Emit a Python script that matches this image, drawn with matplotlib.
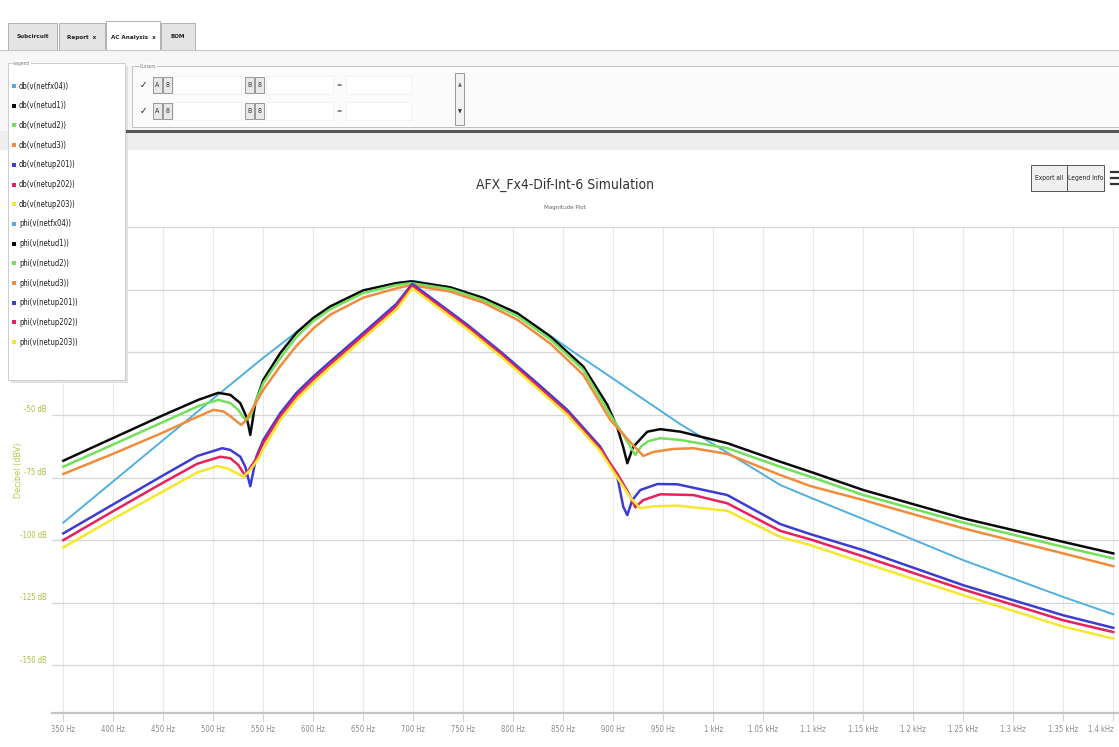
import matplotlib
matplotlib.use('Agg')
import matplotlib.pyplot as plt
from matplotlib.patches import Rectangle
from matplotlib import font_manager, transforms

# narrow font if there is one, the screenshot is squeezed horizontally
_names = {f.name for f in font_manager.fontManager.ttflist}
NARROW = 'Liberation Sans Narrow' if 'Liberation Sans Narrow' in _names else 'DejaVu Sans'
plt.rcParams['font.family'] = [NARROW, 'DejaVu Sans']
plt.rcParams['font.stretch'] = 'condensed'

# ---- data (Hz, dB) ----
f_fx04 = [350, 400, 450, 500, 550, 583, 600, 617, 650, 683, 700, 737, 770, 804, 830, 860,
          900, 967, 1020, 1067, 1097, 1150, 1250, 1350, 1400]
db_fx04 = [-93, -76.5, -60, -43.5, -27.2, -17, -11.5, -6.7, -0.3, 2.6, 3.5, 1.0, -3.3, -9.4,
           -16.5, -24.8, -35.6, -53.7, -66.5, -78, -83, -91.6, -108, -122.7, -129.6]

f_ud1 = [350, 400, 450, 485, 505, 517, 527, 533, 535, 537, 542, 550, 567, 583, 600, 617, 650,
         683, 698, 737, 770, 804, 837, 870, 894, 904, 910, 914, 920, 934, 947, 967, 1014, 1067,
         1097, 1150, 1250, 1350, 1400]
db_ud1 = [-68.3, -59.2, -50.1, -44, -41.2, -42, -45.3, -50.7, -54, -58, -45.3, -36, -25.3,
          -17.3, -11.3, -6.7, -0.3, 2.6, 3.3, 0.9, -3.3, -9.4, -18.7, -30.7, -46, -55, -63,
          -69.3, -62.7, -56.7, -55.7, -56.7, -61.3, -68.7, -72.7, -80, -91.3, -100.7, -105.3]

f_ud2 = [350, 400, 450, 485, 505, 517, 525, 530, 533, 537, 542, 550, 567, 583, 600, 617, 650,
         683, 698, 737, 770, 804, 837, 870, 897, 910, 922, 928, 935, 947, 967, 1014, 1067, 1097,
         1150, 1250, 1350, 1400]
db_ud2 = [-70.7, -61.8, -52.8, -46.5, -44, -45.3, -48, -51, -52, -50.7, -45, -37.3, -27.3,
          -19, -12.5, -7.8, -1.3, 1.8, 2.6, 0.2, -4.2, -10.5, -19.8, -32, -50, -58, -66, -62.5,
          -60.5, -59.3, -60, -63.3, -70.7, -74.7, -82, -93, -102.7, -107.3]

f_ud3 = [350, 400, 450, 480, 500, 510, 517, 523, 528, 533, 540, 550, 567, 583, 600, 617, 650,
         683, 698, 737, 770, 804, 837, 870, 897, 915, 930, 940, 960, 980, 1014, 1067, 1097, 1150,
         1250, 1350, 1400]
db_ud3 = [-73.6, -65.5, -57, -51.5, -48, -48.6, -50.5, -52.5, -54, -52, -47, -40, -30.5,
          -22.5, -15.5, -10, -3.2, 0.5, 1.8, -0.8, -5.2, -12, -21.5, -34, -52, -60, -66.4,
          -64.8, -63.6, -63.3, -65.6, -74, -78.4, -84, -95.3, -105.3, -110.4]

f_up201 = [350, 400, 450, 484, 509, 517, 527, 532, 537, 543, 550, 567, 583, 600, 617, 650,
           683, 699, 754, 787, 820, 854, 887, 904, 910, 914, 919, 927, 944, 964, 1014, 1067,
           1097, 1150, 1250, 1350, 1400]
db_up201 = [-97.3, -85.7, -74.1, -66.4, -63.3, -64, -66.7, -70.7, -78.5, -66.7, -60, -49.3,
            -41.3, -34.7, -28.7, -17.3, -5.7, 2.3, -14, -24.7, -36, -48, -62.7, -74.7, -86.7,
            -90, -84, -80, -77.6, -77.7, -82, -93.6, -97.6, -104, -118, -130, -135]

f_up202 = [350, 400, 450, 484, 507, 517, 525, 532, 537, 543, 550, 567, 583, 600, 617, 650,
           683, 699, 754, 787, 820, 854, 887, 904, 915, 922, 930, 947, 980, 1014, 1067, 1097,
           1150, 1250, 1350, 1400]
db_up202 = [-100, -88.4, -77, -69.5, -66.7, -67.3, -70, -74.3, -71, -67.5, -61.2, -50.5,
            -42.5, -35.8, -29.8, -18.3, -6.7, 1.5, -14.8, -25.5, -37, -49, -63.5, -73.5, -81,
            -86.9, -84, -81.7, -82, -85.3, -96.3, -99.7, -106.5, -119.7, -132, -136.7]

f_up203 = [350, 400, 450, 484, 504, 515, 522, 530, 537, 545, 550, 567, 583, 600, 617, 650,
           683, 699, 754, 787, 820, 854, 887, 904, 918, 927, 940, 964, 1014, 1067, 1097, 1150,
           1250, 1350, 1400]
db_up203 = [-102.9, -91.5, -80.5, -73, -70.4, -71.5, -73, -74.7, -72, -67.5, -63.5, -52, -44,
            -37.2, -31, -19.5, -8, 0.5, -15.8, -26.5, -38, -50, -64.5, -75, -83.5, -87.3,
            -86.5, -86.2, -88.3, -98.7, -102, -109, -122, -134.5, -139.3]

nets = ['netfx04', 'netud1', 'netud2', 'netud3', 'netup201', 'netup202', 'netup203']
colors = ['#4fb0e0', '#0a0a0a', '#72e05a', '#f08c3c', '#3c3cd2', '#e8205c', '#f5e82c']
freqs = [f_fx04, f_ud1, f_ud2, f_ud3, f_up201, f_up202, f_up203]
dbs = [db_fx04, db_ud1, db_ud2, db_ud3, db_up201, db_up202, db_up203]

xticks = [350 + 50 * i for i in range(22)]
xlabels = ['350 Hz', '400 Hz', '450 Hz', '500 Hz', '550 Hz', '600 Hz', '650 Hz', '700 Hz',
           '750 Hz', '800 Hz', '850 Hz', '900 Hz', '950 Hz', '1 kHz', '1.05 kHz', '1.1 kHz',
           '1.15 kHz', '1.2 kHz', '1.25 kHz', '1.3 kHz', '1.35 kHz', '1.4 kHz']
# upper labels sit behind the legend box in the screenshot
yticks = [-150, -125, -100, -75, -50, -25, 0, 25]
ylabels = ['-150 dB', '-125 dB', '-100 dB', '-75 dB', '-50 dB', '', '', '']

W, H = 1119, 747
fig = plt.figure(figsize=(W / 100, H / 100), dpi=100)
fig.patch.set_facecolor('white')

# ---- chart ----
L, R, T, B = 52, 1119, 227, 713
ax = fig.add_axes([L / W, 1 - B / H, (R - L) / W, (B - T) / H], zorder=1)
for f, d, c, n in zip(freqs, dbs, colors, nets):
    ax.plot(f, d, color=c, lw=1.4 if n == 'netfx04' else 1.8, solid_joinstyle='round',
            label='db(v(%s))' % n)
ax.set_xlim(338.7, 1405.7)
ax.set_ylim(-169, 25)
ax.set_xticks(xticks)
ax.set_xticklabels(xlabels, fontsize=5.5, color='#8a8a8a')
ax.set_yticks(yticks)
ax.set_yticklabels(ylabels, fontsize=5.5, color='#a6c23c')
ax.xaxis.grid(True, color='#e9e9e9', lw=0.8)
ax.yaxis.grid(True, color='#d6d6d6', lw=0.9)
ax.set_axisbelow(True)
for s in ['top', 'right', 'left']:
    ax.spines[s].set_visible(False)
ax.spines['bottom'].set_color('#c4c4c4')
ax.spines['bottom'].set_linewidth(1.6)
ax.tick_params(axis='x', length=6, color='#d4d4d4', pad=3)
ax.tick_params(axis='y', length=0, pad=4)
ax.get_xticklabels()[-1].set_ha('right')
up = transforms.ScaledTranslation(0, 0.06, fig.dpi_scale_trans)
for lab in ax.get_yticklabels():
    lab.set_transform(lab.get_transform() + up)
fig.text(18 / W, 1 - 470 / H, 'Decibel (dBV)', rotation=90, ha='center', va='center',
         fontsize=6.5, color='#b4c84a')

# ---- UI around the chart, in pixel coords ----
ui = fig.add_axes([0, 0, 1, 1], zorder=5)
ui.set_xlim(0, W)
ui.set_ylim(H, 0)
ui.axis('off')


def box(x0, y0, x1, y1, fc='white', ec='#bbbbbb', lw=0.7, z=1):
    ui.add_patch(Rectangle((x0, y0), x1 - x0, y1 - y0, facecolor=fc, edgecolor=ec, lw=lw, zorder=z))


# top panel
box(0, 50, W, 131, fc='#f6f6f6', ec='none')
ui.plot([0, W], [50, 50], color='#c8c8c8', lw=0.8)
box(0, 131, W, 150, fc='#eeeeee', ec='none')
ui.plot([125, W], [131, 131], color='#555555', lw=2.2)

tabs = [('Subcircuit', 8, 57), ('Report  x', 59, 105), ('AC Analysis  x', 106, 160), ('BOM', 161, 195)]
for name, x0, x1 in tabs:
    sel = name.startswith('AC')
    box(x0, 21 if sel else 23, x1, 50, fc='white' if sel else '#e4e4e4', ec='#b0b0b0', lw=0.7)
    ui.text((x0 + x1) / 2, 37, name, ha='center', va='center', fontsize=4.5,
            fontweight='bold', color='#222222')

# cursors group
box(132, 66, W + 5, 127, fc='#fbfbfb', ec='#c0c0c0', lw=0.7)
ui.text(140, 66, 'Cursors', fontsize=3.5, color='#777777', va='center',
        bbox=dict(fc='#fbfbfb', ec='none', pad=0.3))
for yy in (85, 111):
    ui.text(143, yy, '\u2713', fontsize=7, ha='center', va='center', color='#222222',
            family='DejaVu Sans')
    for bx, ch in ((153, 'A'), (163, '8'), (245, 'B'), (255, '8')):
        box(bx, yy - 8, bx + 9, yy + 8, fc='#e8e8e8', ec='#888888', lw=0.6)
        ui.text(bx + 4.5, yy, ch, fontsize=5, ha='center', va='center', color='#333333')
    box(173, yy - 9, 241, yy + 9, fc='white', ec='#eeeeee', lw=0.5)
    box(266, yy - 9, 333, yy + 9, fc='white', ec='#eeeeee', lw=0.5)
    box(346, yy - 9, 411, yy + 9, fc='white', ec='#eeeeee', lw=0.5)
    ui.text(339, yy, '=', fontsize=5, ha='center', va='center', color='#333333')
box(455, 73, 464, 125, fc='#f2f2f2', ec='#888888', lw=0.6)
ui.text(459.5, 85, '\u25b2', fontsize=4, ha='center', va='center', color='#666666',
        family='DejaVu Sans')
ui.text(459.5, 112, '\u25bc', fontsize=4, ha='center', va='center', color='#333333',
        family='DejaVu Sans')

# legend group
box(11, 66, 128, 383, fc='#e2e2e2', ec='none')
box(8, 63, 125, 380, fc='white', ec='#cccccc', lw=0.7, z=2)
ui.text(14, 63, 'Legend', fontsize=3.5, color='#777777', va='center', zorder=3,
        bbox=dict(fc='white', ec='none', pad=0.3))
entries = ['db(v(%s))' % n for n in nets] + ['phi(v(%s))' % n for n in nets]
for i, (name, c) in enumerate(zip(entries, colors + colors)):
    yy = 86 + i * 19.7
    box(12, yy - 2, 16, yy + 2, fc=c, ec='none', z=3)
    ui.text(19, yy, name, fontsize=5.5, va='center', color='#1e1e1e', zorder=3)

# title and buttons
ui.text(565, 185, 'AFX_Fx4-Dif-Int-6 Simulation', ha='center', va='center', fontsize=10,
        color='#333333')
ui.text(565, 208, 'Magnitude Plot', ha='center', va='center', fontsize=4.5, color='#666666')
box(1031, 165, 1067, 191, fc='#efefef', ec='#555555', lw=0.7)
box(1067, 165, 1104, 191, fc='#efefef', ec='#555555', lw=0.7)
ui.text(1049, 178, 'Export all', ha='center', va='center', fontsize=4.8, color='#222222')
ui.text(1085.5, 178, 'Legend Info', ha='center', va='center', fontsize=4.8, color='#222222')
for yy in (172, 178, 184):
    ui.plot([1111, 1119], [yy, yy], color='#333333', lw=1.6)

fig.savefig('out.png', dpi=100)
